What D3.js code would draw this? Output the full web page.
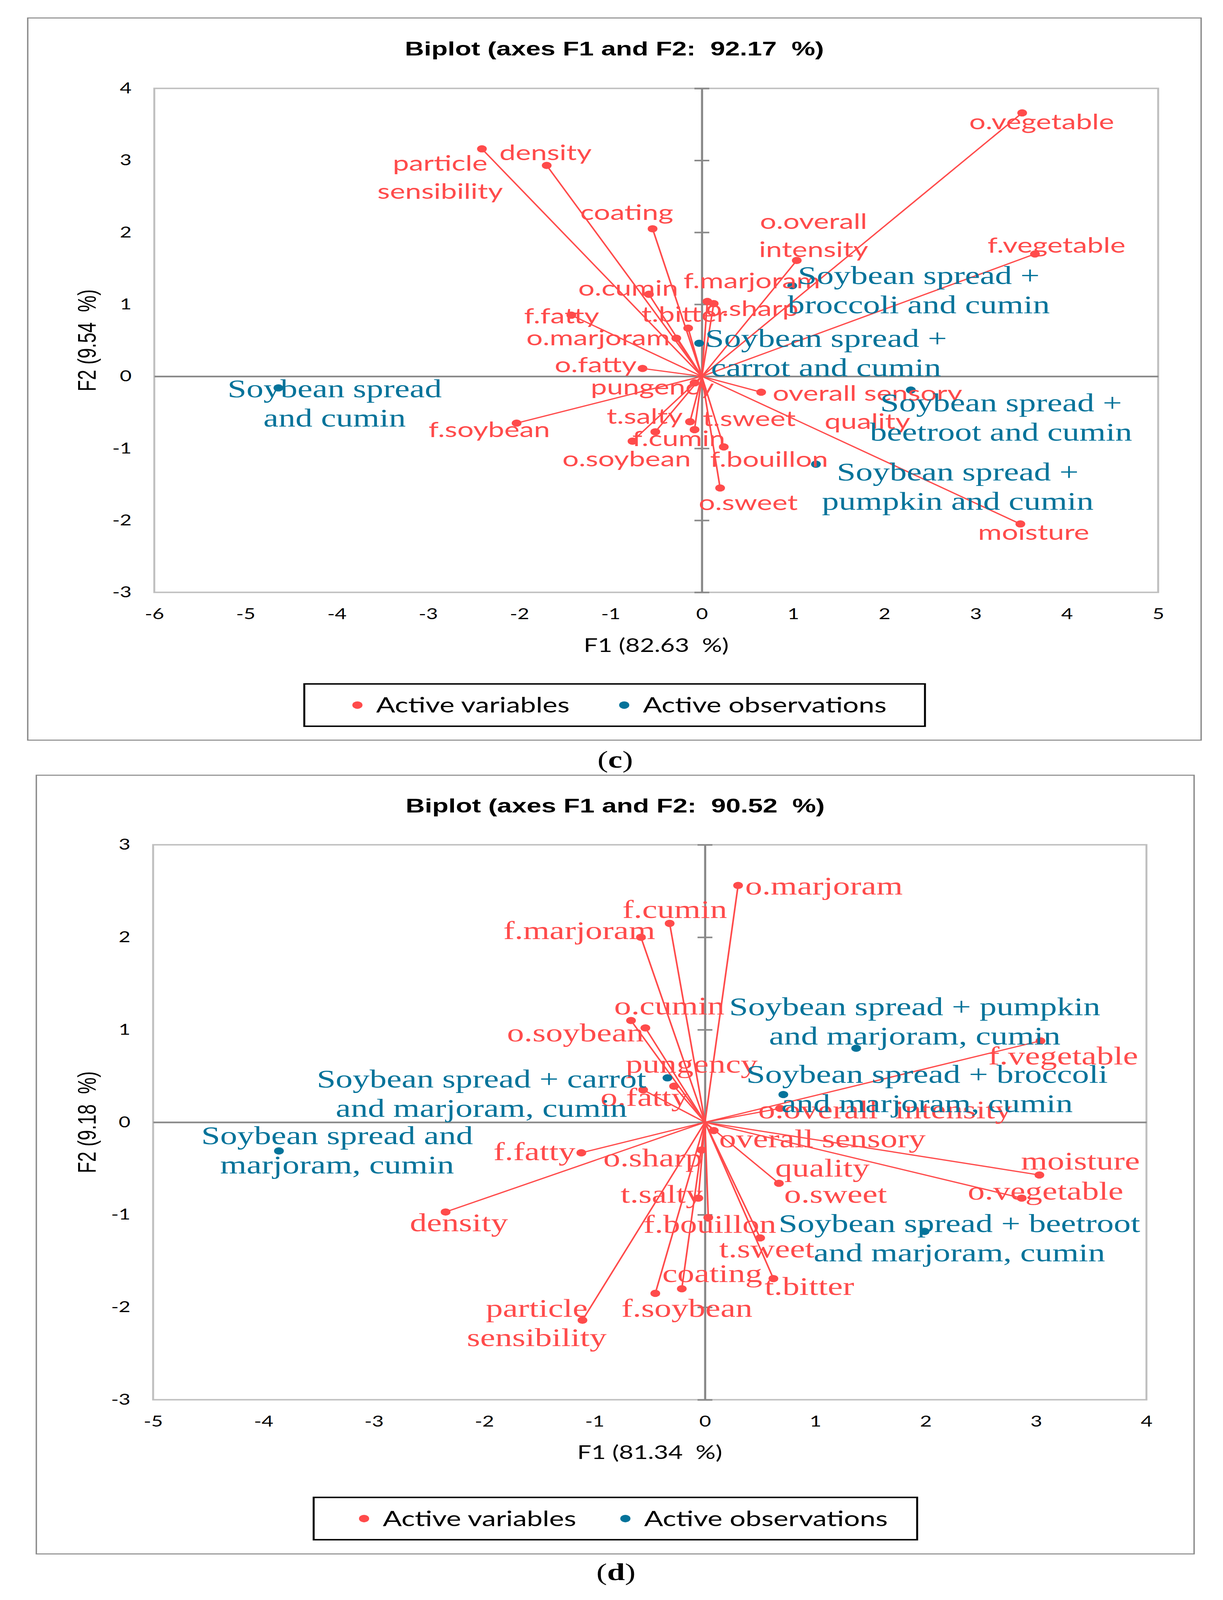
<!DOCTYPE html>
<html>
<head>
<meta charset="utf-8">
<script src="https://cdn.jsdelivr.net/npm/d3@7"></script>
<style>
  html, body { margin: 0; padding: 0; background: #fff; overflow: hidden; }
  svg { display: block; width: 100vw; height: 100vh; }
  text { white-space: pre; }
</style>
</head>
<body>
<svg id="fig" viewBox="0 0 3131 5521" preserveAspectRatio="none"></svg>
<script>
// ----------------------
// CHART (c) DATA
// ----------------------
const varNamesC = ["particle\nsensibility","density","coating","o.vegetable","o.overall\nintensity","f.vegetable",
  "f.marjoram","o.sharp","o.cumin","t.bitter","f.fatty","o.marjoram","o.fatty","pungency","overall sensory\nquality",
  "f.soybean","t.salty","t.sweet","f.cumin","o.soybean","f.bouillon","o.sweet","moisture"];
const varF1C = [-2.41,-1.70,-0.54,3.51,1.04,3.65,0.06,0.13,-0.58,-0.15,-1.43,-0.28,-0.65,-0.08,0.65,-2.03,-0.13,-0.08,-0.51,-0.76,0.24,0.20,3.49];
const varF2C = [3.16,2.93,2.05,3.66,1.61,1.70,1.04,1.01,1.14,0.67,0.85,0.53,0.11,-0.09,-0.22,-0.65,-0.63,-0.74,-0.77,-0.90,-0.98,-1.55,-2.05];
const obsNamesC = ["Soybean spread\nand cumin","Soybean spread +\nbroccoli and cumin","Soybean spread +\ncarrot and cumin",
  "Soybean spread +\nbeetroot and cumin","Soybean spread +\npumpkin and cumin"];
const obsF1C = [-4.64,0.99,-0.03,2.29,1.25];
const obsF2C = [-0.16,1.26,0.46,-0.19,-1.22];
const xTicksC = [-6,-5,-4,-3,-2,-1,0,1,2,3,4,5];
const yTicksC = [-3,-2,-1,0,1,2,3,4];

// ----------------------
// CHART (d) DATA
// ----------------------
const varNamesD = ["o.marjoram","f.cumin","f.marjoram","o.cumin","o.soybean","pungency","o.fatty","f.vegetable",
  "o.overall  intensity","overall sensory\nquality","o.sweet","o.sharp","moisture","o.vegetable","t.salty","f.bouillon",
  "t.sweet","coating","t.bitter","f.soybean","f.fatty","density","particle\nsensibility"];
const varF1D = [0.30,-0.32,-0.58,-0.67,-0.54,-0.28,-0.56,3.04,0.68,0.08,0.67,-0.03,3.03,2.87,-0.06,0.03,0.50,-0.21,0.62,-0.45,-1.12,-2.35,-1.11];
const varF2D = [2.56,2.15,2.00,1.10,1.02,0.39,0.35,0.88,0.15,-0.09,-0.66,-0.30,-0.57,-0.82,-0.82,-1.03,-1.25,-1.80,-1.69,-1.85,-0.33,-0.97,-2.14];
const obsNamesD = ["Soybean spread + pumpkin\nand marjoram, cumin","Soybean spread + carrot\nand marjoram, cumin",
  "Soybean spread + broccoli\nand marjoram, cumin","Soybean spread + beetroot\nand marjoram, cumin","Soybean spread and\nmarjoram, cumin"];
const obsF1D = [1.37,-0.34,0.71,1.99,-3.86];
const obsF2D = [0.80,0.48,0.30,-1.18,-0.31];
const xTicksD = [-5,-4,-3,-2,-1,0,1,2,3,4];
const yTicksD = [-3,-2,-1,0,1,2,3];

const legendNames = ["Active variables","Active observations"];

// label placement (pixel offsets from the point: centre x, first baseline)
const varOffC = [[-107,75],[-3,-18],[-66,-30],[50,57],[43,-109],[55,-4],[114,-46],[98,43],[-53,5],[-10,-21],[-25,28],
  [-200,25],[-120,13],[-108,40],[272,29],[-70,48],[-116,7],[140,-12],[60,49],[-15,87],[116,68],[72,76],[34,55]];
const obsOffC = [[144,32],[324,-6],[325,12],[231,74],[363,56]];
const varOffD = [[220,31],[13,-19],[-158,6],[98,-21],[-179,46],[45,-47],[3,55],[58,81],[269,35],[278,58],[145,67],
  [-125,57],[105,-19],[61,5],[-94,16],[4,53],[17,68],[78,-23],[92,57],[81,81],[-120,25],[34,67],[-117,-12]];
const obsOffD = [[150,-114],[-476,33],[368,-40],[89,2],[149,-23]];

const RED = "#ff4b4b", TEAL = "#04739a", AXIS = "#898989", BORDER = "#bfbfbf";
const SANS = "Lato", SERIF = "Liberation Serif", ARIAL = "Liberation Sans";

// the figure is laid out on a 3131x5521 canvas; the viewBox fits it to the window
const svg = d3.select("#fig");

function multiline(sel, str, lh){
  str.split("\n").forEach((s,i)=>{
    sel.append("tspan").attr("x", sel.attr("x")).attr("dy", i===0 ? 0 : lh).text(s);
  });
}

function biplot(c){
  const g = svg.append("g");
  const x = d3.scaleLinear().domain(c.xDom).range([c.plot.l, c.plot.r]);
  const y = d3.scaleLinear().domain(c.yDom).range([c.plot.b, c.plot.t]);

  // outer frame
  g.append("rect").attr("x", c.frame.x).attr("y", c.frame.y)
    .attr("width", c.frame.w).attr("height", c.frame.h)
    .attr("fill","none").attr("stroke", AXIS).attr("stroke-width", 3.5);

  // title
  g.append("text").attr("x", c.frame.x + c.frame.w/2).attr("y", c.titleY)
    .attr("text-anchor","middle").attr("font-family", ARIAL).attr("font-weight","bold")
    .attr("font-size", 68).text(c.title);

  // plot border
  g.append("rect").attr("x", c.plot.l).attr("y", c.plot.t)
    .attr("width", c.plot.r - c.plot.l).attr("height", c.plot.b - c.plot.t)
    .attr("fill","none").attr("stroke", BORDER).attr("stroke-width", 5);

  // tick labels (low position)
  const yl = g.append("g").attr("transform", `translate(${c.plot.l},0)`)
    .call(d3.axisLeft(y).tickValues(c.yTicks).tickSize(0).tickPadding(58).tickFormat(d=>String(d)));
  yl.select(".domain").remove();
  yl.selectAll("text").attr("font-family", SANS).attr("font-size", 52).attr("fill","#000");

  const xl = g.append("g").attr("transform", `translate(0,${c.plot.b})`)
    .call(d3.axisBottom(x).tickValues(c.xTicks).tickSize(0).tickFormat(d=>String(d)));
  xl.select(".domain").remove();
  xl.selectAll("text").attr("y", 93).attr("dy", 0)
    .attr("font-family", SANS).attr("font-size", 52).attr("fill","#000");

  // horizontal axis through 0
  const hx = g.append("g").attr("transform", `translate(0,${y(0)})`)
    .call(d3.axisBottom(x).tickValues([]).tickSizeOuter(0));
  hx.select(".domain").attr("stroke", AXIS).attr("stroke-width", 5.5);

  // vertical axis through 0 with cross ticks
  const vx = g.append("g").attr("transform", `translate(${x(0)},0)`)
    .call(d3.axisLeft(y).tickValues(c.yTicks).tickSize(19).tickSizeOuter(0).tickFormat(""));
  vx.select(".domain").attr("stroke", AXIS).attr("stroke-width", 5.5);
  vx.selectAll(".tick line").attr("x1", 19).attr("stroke", AXIS).attr("stroke-width", 5.5);

  // axis titles
  g.append("text").attr("x", (c.plot.l + c.plot.r)/2).attr("y", c.plot.b + 205)
    .attr("text-anchor","middle").attr("font-family", SANS).attr("font-size", 64).text(c.xTitle);
  g.append("text").attr("transform", `translate(245,${(c.plot.t + c.plot.b)/2}) rotate(-90)`)
    .attr("text-anchor","middle").attr("font-family", ARIAL).attr("font-size", 64).text(c.yTitle);

  // variables: vectors from origin
  const vars = c.varNames.map((n,i)=>({name:n, f1:c.varF1[i], f2:c.varF2[i], off:c.varOff[i]}));
  const obs = c.obsNames.map((n,i)=>({name:n, f1:c.obsF1[i], f2:c.obsF2[i], off:c.obsOff[i]}));

  g.append("g").selectAll("line").data(vars).join("line")
    .attr("x1", x(0)).attr("y1", y(0))
    .attr("x2", d=>x(d.f1)).attr("y2", d=>y(d.f2))
    .attr("stroke", RED).attr("stroke-width", 4.2);
  g.append("g").selectAll("circle").data(vars).join("circle")
    .attr("cx", d=>x(d.f1)).attr("cy", d=>y(d.f2)).attr("r", 12.5).attr("fill", RED);
  g.append("g").selectAll("circle").data(obs).join("circle")
    .attr("cx", d=>x(d.f1)).attr("cy", d=>y(d.f2)).attr("r", 12.5).attr("fill", TEAL);

  g.append("g").selectAll("text").data(vars).join("text")
    .attr("x", d=>x(d.f1) + d.off[0]).attr("y", d=>y(d.f2) + d.off[1])
    .attr("text-anchor","middle").attr("fill", RED)
    .attr("font-family", c.varFont).attr("font-size", c.varSize)
    .each(function(d){ multiline(d3.select(this), d.name, c.varLh); });

  g.append("g").selectAll("text").data(obs).join("text")
    .attr("x", d=>x(d.f1) + d.off[0]).attr("y", d=>y(d.f2) + d.off[1])
    .attr("text-anchor","middle").attr("fill", TEAL)
    .attr("font-family", SERIF).attr("font-size", 87)
    .each(function(d){ multiline(d3.select(this), d.name, 101); });

  // legend
  const L = c.legend;
  g.append("rect").attr("x", L.x).attr("y", L.y).attr("width", L.w).attr("height", L.h)
    .attr("fill","#fff").attr("stroke","#000").attr("stroke-width", 5);
  const items = g.append("g").selectAll("g").data(legendNames).join("g")
    .attr("transform", (d,i)=>`translate(${L.items[i]},${L.y + L.h/2})`);
  items.append("circle").attr("r", 13).attr("cy", 0).attr("fill", (d,i)=> i===0 ? RED : TEAL);
  items.append("text").attr("x", 48).attr("y", 26)
    .attr("font-family", SANS).attr("font-size", 72).text(d=>d);

  // caption
  const cap = svg.append("text").attr("x", c.capX).attr("y", c.capY)
    .attr("text-anchor","middle").attr("font-family", SERIF).attr("font-size", 82);
  cap.append("tspan").text("(");
  cap.append("tspan").attr("font-weight","bold").text(c.cap);
  cap.append("tspan").text(")");
}

biplot({
  frame:{x:71, y:62, w:3004, h:2492},
  plot:{l:395, r:2965, t:305, b:2044},
  xDom:[-6,5], yDom:[-3,4], xTicks:xTicksC, yTicks:yTicksC,
  title:"Biplot (axes F1 and F2:  92.17  %)", titleY:191,
  xTitle:"F1 (82.63  %)", yTitle:"F2 (9.54  %)",
  varNames:varNamesC, varF1:varF1C, varF2:varF2C, varOff:varOffC,
  obsNames:obsNamesC, obsF1:obsF1C, obsF2:obsF2C, obsOff:obsOffC,
  varFont:SANS, varSize:74, varLh:97,
  legend:{x:779, y:2360, w:1589, h:146, items:[915,1598]},
  cap:"c", capX:1575, capY:2648
});

biplot({
  frame:{x:93, y:2675, w:2964, h:2687},
  plot:{l:392, r:2935, t:2915, b:4830},
  xDom:[-5,4], yDom:[-3,3], xTicks:xTicksD, yTicks:yTicksD,
  title:"Biplot (axes F1 and F2:  90.52  %)", titleY:2804,
  xTitle:"F1 (81.34  %)", yTitle:"F2 (9.18  %)",
  varNames:varNamesD, varF1:varF1D, varF2:varF2D, varOff:varOffD,
  obsNames:obsNamesD, obsF1:obsF1D, obsF2:obsF2D, obsOff:obsOffD,
  varFont:SERIF, varSize:87, varLh:101,
  legend:{x:803, y:5167, w:1545, h:146, items:[932,1601]},
  cap:"d", capX:1577, capY:5452
});
</script>
</body>
</html>
